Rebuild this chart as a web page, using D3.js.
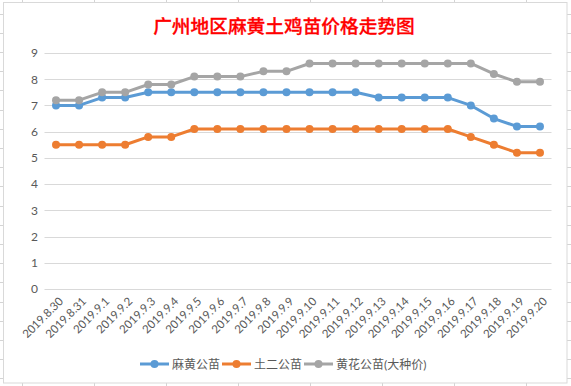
<!DOCTYPE html>
<html><head><meta charset="utf-8">
<script src="https://cdn.jsdelivr.net/npm/d3@7/dist/d3.min.js"></script>
<style>
html,body{margin:0;padding:0;background:#fff;}
svg{display:block;}
text{font-family:"Lato","Noto Sans CJK SC",sans-serif;}
</style></head><body>
<svg id="c" width="571" height="386"></svg>
<script>
const categories = ["2019.8.30","2019.8.31","2019.9.1","2019.9.2","2019.9.3","2019.9.4","2019.9.5","2019.9.6","2019.9.7","2019.9.8","2019.9.9","2019.9.10","2019.9.11","2019.9.12","2019.9.13","2019.9.14","2019.9.15","2019.9.16","2019.9.17","2019.9.18","2019.9.19","2019.9.20"];
const mahuang = [7.0,7.0,7.3,7.3,7.5,7.5,7.5,7.5,7.5,7.5,7.5,7.5,7.5,7.5,7.3,7.3,7.3,7.3,7.0,6.5,6.2,6.2];
const tuer    = [5.5,5.5,5.5,5.5,5.8,5.8,6.1,6.1,6.1,6.1,6.1,6.1,6.1,6.1,6.1,6.1,6.1,6.1,5.8,5.5,5.2,5.2];
const huanghua= [7.2,7.2,7.5,7.5,7.8,7.8,8.1,8.1,8.1,8.3,8.3,8.6,8.6,8.6,8.6,8.6,8.6,8.6,8.6,8.2,7.9,7.9];
const seriesNames = ["麻黄公苗","土二公苗","黄花公苗(大种价)"];
const yTicks = [0,1,2,3,4,5,6,7,8,9];
const title = "广州地区麻黄土鸡苗价格走势图";

const colors = ["#5B9BD5","#ED7D31","#A5A5A5"];
const series = [mahuang, tuer, huanghua];

const svg = d3.select("#c");
const W = 571, H = 386;

// spreadsheet background grid
const bg = svg.append("g");
const colXs = d3.range(22.5, W, 72);
const rowYs = d3.range(13.5, H, 19.2);
bg.selectAll("line.v").data(colXs).join("line")
  .attr("x1", d=>d).attr("x2", d=>d).attr("y1",0).attr("y2",H)
  .attr("stroke","#D4D4D4").attr("stroke-width",1);
bg.selectAll("line.h").data(rowYs).join("line")
  .attr("y1", d=>Math.round(d)+0.5).attr("y2", d=>Math.round(d)+0.5).attr("x1",0).attr("x2",W)
  .attr("stroke","#D4D4D4").attr("stroke-width",1);

// chart box
svg.append("rect").attr("x",3.5).attr("y",2.5).attr("width",563.5).attr("height",380.5)
  .attr("fill","#fff").attr("stroke","#D9D9D9").attr("stroke-width",1);

// title
svg.append("text").attr("x",284).attr("y",33).attr("text-anchor","middle")
  .attr("fill","#FF0000").attr("font-size","18.7px").attr("font-weight","500")
  .attr("stroke","#FF0000").attr("stroke-width",0.3)
  .style("font-family","'Noto Sans CJK SC',sans-serif").text(title);

const x = d3.scaleBand().domain(categories).range([44.5, 551.5]);
const cx = d => x(d) + x.bandwidth()/2;
const y = d3.scaleLinear().domain([0,9]).range([289, 53]);

// gridlines
svg.append("g").selectAll("line").data(yTicks).join("line")
  .attr("x1",44.5).attr("x2",551.5)
  .attr("y1",d=>Math.round(y(d))+0.5).attr("y2",d=>Math.round(y(d))+0.5)
  .attr("stroke","#D9D9D9").attr("stroke-width",1);

// y labels
const yAxis = d3.axisLeft(y).tickValues(yTicks).tickSize(0).tickPadding(0).tickFormat(d3.format("d"));
const gy = svg.append("g").attr("transform","translate(38,0)").call(yAxis);
gy.select(".domain").remove();
gy.selectAll("text").attr("fill","#595959").attr("font-size","12px").attr("text-anchor","end");

// x labels
const xAxis = d3.axisBottom(x).tickSize(0).tickPadding(0);
const gx = svg.append("g").attr("transform","translate(0,296)").call(xAxis);
gx.select(".domain").remove();
gx.selectAll("text")
  .attr("fill","#595959").attr("font-size","11.5px")
  .attr("text-anchor","end").attr("dy",0).attr("y",0)
  .attr("transform","translate(8,6) rotate(-45)");

// lines
const line = d3.line().x((d,i)=>cx(categories[i])).y(d=>y(d));
series.forEach((s,k)=>{
  const g = svg.append("g");
  g.append("path").datum(s).attr("d",line).attr("fill","none")
    .attr("stroke",colors[k]).attr("stroke-width",3).attr("stroke-linejoin","round");
  g.selectAll("circle").data(s).join("circle")
    .attr("cx",(d,i)=>cx(categories[i])).attr("cy",d=>y(d)).attr("r",4)
    .attr("fill",colors[k]);
});

// legend
const legX = [140, 222, 304];
const lg = svg.append("g");
seriesNames.forEach((n,k)=>{
  const g = lg.append("g").attr("transform",`translate(${legX[k]},364)`);
  g.append("line").attr("x1",0).attr("x2",29).attr("y1",0).attr("y2",0)
    .attr("stroke",colors[k]).attr("stroke-width",3);
  g.append("circle").attr("cx",14.5).attr("cy",0).attr("r",4).attr("fill",colors[k]);
  g.append("text").attr("x",32).attr("y",4.5).attr("fill","#595959").attr("font-size","12px")
    .text(n);
});
</script>
</body></html>
